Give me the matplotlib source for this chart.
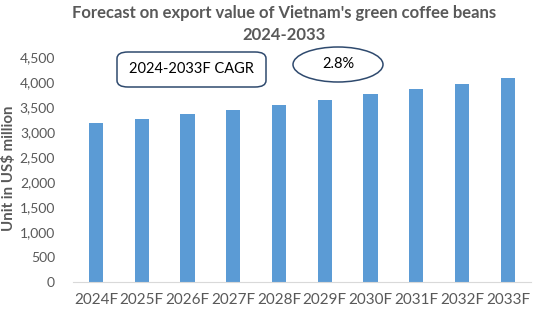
import matplotlib
matplotlib.use("Agg")
import matplotlib.pyplot as plt
from matplotlib.patches import FancyBboxPatch, Ellipse
from matplotlib.ticker import FuncFormatter

years = ["2024F", "2025F", "2026F", "2027F", "2028F",
         "2029F", "2030F", "2031F", "2032F", "2033F"]
values = [3176, 3268, 3356, 3443, 3549, 3642, 3756, 3857, 3963, 4078]
yticks = [0, 500, 1000, 1500, 2000, 2500, 3000, 3500, 4000, 4500]

plt.rcParams['font.family'] = ['Lato', 'DejaVu Sans']
gray = '#595959'

fig = plt.figure(figsize=(5.5, 3.22), dpi=100)
ax = fig.add_axes([0.133, 0.125, 0.832, 0.697])
ax.bar(years, values, width=0.31, color='#5B9BD5')
ax.set_ylim(0, 4500)
ax.set_xlim(-0.5, len(years) - 0.5)
ax.set_yticks(yticks)
ax.yaxis.set_major_formatter(FuncFormatter(lambda v, p: f"{int(v):,}"))

for s in ['top', 'right', 'left']:
    ax.spines[s].set_visible(False)
ax.spines['bottom'].set_color('#D9D9D9')
ax.tick_params(axis='y', length=0, labelsize=10, labelcolor=gray, pad=13)
ax.tick_params(axis='x', length=0, labelsize=11, labelcolor=gray, pad=8)

fig.text(8.5 / 550, 1 - 168 / 322, "Unit in US$ million", rotation=90,
         ha='center', va='center', fontsize=10.8, fontweight='bold', color=gray)
fig.text(284 / 550, 1 - 24 / 322, "Forecast on export value of Vietnam's green coffee beans\n2024-2033",
         ha='center', va='center', fontsize=12, fontweight='bold', color=gray, linespacing=1.4)

# annotation shapes, in figure pixels
W, H = 550, 322
box = FancyBboxPatch((117 / W, 1 - 87 / H), 149 / W, 35 / H,
                     boxstyle="round,pad=0,rounding_size=0.02",
                     transform=fig.transFigure, fill=False,
                     edgecolor='#2F4A6E', linewidth=1.1)
fig.patches.append(box)
fig.text(191 / W, 1 - 69 / H, "2024-2033F CAGR", ha='center', va='center',
         fontsize=10.5, color='black')

ell = Ellipse((338 / W, 1 - 64.5 / H), 90 / W, 35 / H, transform=fig.transFigure,
              fill=False, edgecolor='#2F4A6E', linewidth=1.1)
fig.patches.append(ell)
fig.text(338 / W, 1 - 64.5 / H, "2.8%", ha='center', va='center',
         fontsize=10.5, color='black')

fig.savefig("out.png", dpi=100)
